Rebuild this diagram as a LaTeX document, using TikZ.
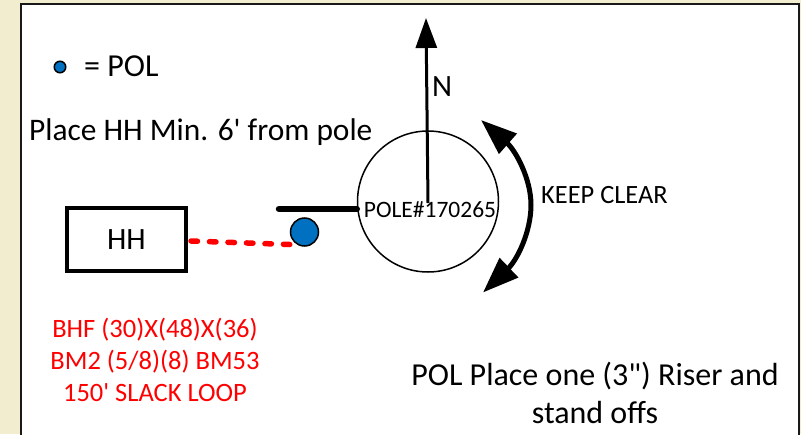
\documentclass[tikz,border=0pt]{standalone}
\usepackage{fontspec}
\setmainfont{Carlito}[Ligatures=TeXOff]
\usetikzlibrary{arrows.meta}
\definecolor{pagebg}{HTML}{F3EDCF}
\definecolor{polblue}{HTML}{0070C0}
\tikzset{
  txt/.style={inner sep=0pt,align=center,font=\fontsize{#1}{#1}\selectfont},
  bigtip/.style={-{Triangle[length=30pt,width=21pt]}},
}
\begin{document}
\begin{tikzpicture}[x=1pt,y=-1pt]
\useasboundingbox (0,0) rectangle (801,434);
\fill[pagebg] (0,0) rectangle (801,434);
\draw[line width=2pt,fill=white,draw=black!90] (21,4) rectangle (799,440);
\node[circle,draw,line width=1.5pt,minimum size=141pt,inner sep=0pt] (pole) at (428,201.5) {};
\coordinate (poleC) at (428,203);
\coordinate (north) at (426,18);
\draw[line width=3pt,bigtip] (poleC) -- (north);
\node[txt=23.5,anchor=center] (poletext) at (430,209.5) {POLE\#170265};
\node[txt=31,anchor=west] (ntext) at (432,87) {N};
\coordinate (arcA) at (481,120);
\coordinate (arcM) at (531,205);
\coordinate (arcB) at (483,292.5);
\draw[line width=5pt,{Triangle[length=36pt,width=26pt]}-{Triangle[length=36pt,width=26pt]}]
  (arcA) .. controls (515,150) and (531,178) .. (arcM) .. controls (531,232) and (517,260) .. (arcB);
\node[txt=26.4,anchor=west] (keep) at (541,195.5) {KEEP CLEAR};
\node[circle,draw,line width=1.5pt,fill=polblue,minimum size=11.5pt,inner sep=0pt] (legend) at (60,67) {};
\node[txt=32,anchor=west] (legendtext) at (84,66) {= POL};
\node[txt=31.4,anchor=west] (place) at (29,132) {Place HH Min. 6' from pole};
\node[draw,line width=4pt,minimum width=119pt,minimum height=63pt,inner sep=0pt,txt=31] (hh) at (126.5,239.5) {HH};
\node[circle,draw,line width=1.5pt,fill=polblue,minimum size=28pt,inner sep=0pt] (pol) at (304.5,232) {};
\coordinate (barstart) at (279,209);
\draw[line width=6.5pt,line cap=round] (barstart) -- (pole.west |- barstart);
\draw[red,line width=5.5pt,line cap=round,dash pattern=on 6.5pt off 12pt] (hh.east) ++(3,1.5) -- (pol.west |- 0,244.5);
\node[txt=26.5,text=red] (red) at (155,359.5) {BHF (30)X(48)X(36)\\[5.4pt]BM2 (5/8)(8) BM53\\[5.4pt]150' SLACK LOOP};
\node[txt=32,anchor=center] (riser) at (595,393) {POL Place one (3") Riser and\\[6.4pt]stand offs};
\end{tikzpicture}
\end{document}
